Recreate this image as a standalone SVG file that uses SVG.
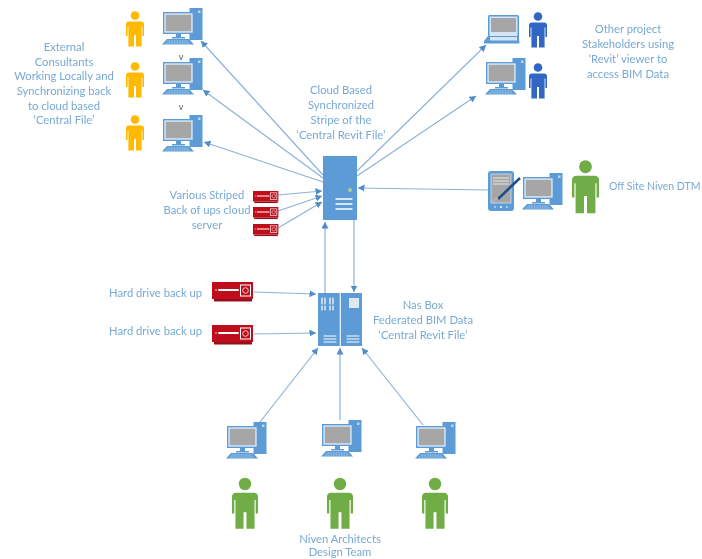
<svg xmlns="http://www.w3.org/2000/svg" xmlns:xlink="http://www.w3.org/1999/xlink" width="702" height="559" viewBox="0 0 702 559">
<style>
text{font-family:"Lato","Open Sans","Liberation Sans",sans-serif;font-size:11.25px;fill:#78a9d4}
.m{text-anchor:middle}
.c{stroke:#8cb2d8;stroke-width:1.2;fill:none;marker-end:url(#ah)}
.k{fill:#5b9bd5}
.w{fill:#d5e5f5}
.g{fill:#a6a6a6}
.r{fill:#c00f1e}
.rd{fill:#98101c}
.l{stroke:#fff;stroke-linecap:round;fill:none}
</style>
<defs>
<filter id="soft" x="0" y="0" width="100%" height="100%"><feGaussianBlur stdDeviation="0.35"/></filter>
<marker id="ah" markerUnits="userSpaceOnUse" markerWidth="9" markerHeight="9" refX="6.500" refY="3.500" orient="auto"><path d="M0 0L6.500 3.500L0 7Z" fill="#4f8dc8"/></marker>
<symbol id="pc" width="41" height="37" viewBox="0 0 41 37" overflow="visible">
<rect class="k" x="27.500" y="0" width="13" height="32"/><rect x="36" y="2.500" width="2.500" height="2.500" fill="#bcd6ef"/>
<rect class="k" x="1" y="4" width="31" height="22"/><rect class="w" x="2.300" y="5.300" width="28.400" height="19.400"/><rect class="g" x="3.800" y="6.800" width="25.400" height="16.400"/>
<rect class="k" x="14" y="26" width="5" height="3"/><rect class="k" x="10" y="29" width="13" height="1.500"/>
<path class="k" d="M5 31H27L32 36.500H0Z"/><path d="M5.500 33H26.500M4 35H28" stroke="#cfe2f5" stroke-width=".8" stroke-dasharray="1 .6"/>
</symbol>
<symbol id="person" width="18" height="36" viewBox="0 0 18 36" overflow="visible">
<circle cx="9" cy="4.500" r="4.300"/>
<path d="M3 10.500H15Q18 10.500 18 13.500V25H16.400V15.500H15.600V35.500H10V24H8V35.500H2.400V15.500H1.600V25H0V13.500Q0 10.500 3 10.500Z"/>
</symbol>
<symbol id="drive" width="42" height="21" viewBox="0 0 42 21" overflow="visible">
<rect class="r" width="41" height="17"/><rect class="rd" x="2" y="17" width="38" height="2.500"/>
<path class="l" d="M7 8H26" stroke-width="1.800"/><rect x="28.500" y="3" width="10" height="11" fill="none" stroke="#fff" stroke-width="1"/><circle cx="33.500" cy="8.500" r="2.800" fill="none" stroke="#f3c9cc" stroke-width="1"/>
<circle cx="4" cy="8" r="1" fill="#e88"/>
</symbol>
</defs>
<rect width="702" height="559" fill="#fff"/>
<g filter="url(#soft)">
<g id="connectors">
<path class="c" d="M323 175L201 41"/>
<path class="c" d="M323 178L203 90"/>
<path class="c" d="M323 182L204 142"/>
<path class="c" d="M357 171L486 45"/>
<path class="c" d="M357 176L476 96"/>
<path class="c" d="M488 190L358 188"/>
<path class="c" d="M278 195L322 191"/>
<path class="c" d="M278 211L322 196"/>
<path class="c" d="M278 228L322 202"/>
<path class="c" d="M325 293V222"/>
<path class="c" d="M354 220V292"/>
<path class="c" d="M254 292L316 294"/>
<path class="c" d="M254 334L316 333"/>
<path class="c" d="M260 422L318 348"/>
<path class="c" d="M340 420V348"/>
<path class="c" d="M423 425L362 348"/>
</g>

<g id="consultant-1"><use href="#person" x="126" y="11" fill="#ffb900"/><use href="#pc" x="162" y="8"/></g>
<g id="consultant-2"><use href="#person" x="126" y="62" fill="#ffb900"/><use href="#pc" x="162" y="58"/><text class="m" x="181" y="60" style="font-size:9px;fill:#555">v</text></g>
<g id="consultant-3"><use href="#person" x="126" y="115" fill="#ffb900"/><use href="#pc" x="162" y="115"/><text class="m" x="181" y="110" style="font-size:9px;fill:#555">v</text></g>
<g id="consultants-label"><text class="m" x="64" y="51">External</text><text class="m" x="64" y="66">Consultants</text><text class="m" x="64" y="80">Working Locally and</text><text class="m" x="64" y="95">Synchronizing back</text><text class="m" x="64" y="110">to cloud based</text><text class="m" x="64" y="124">‘Central File’</text></g>

<g id="cloud-server">
<rect class="k" x="323" y="156" width="34" height="64"/><circle cx="350" cy="190" r="2" fill="#a9d18e"/>
<path class="l" d="M336 199H352M336 204H352M336 209H352" stroke-width="1.300"/>
</g>
<g id="cloud-label"><text class="m" x="341" y="94">Cloud Based</text><text class="m" x="341" y="109">Synchronized</text><text class="m" x="341" y="124">Stripe of the</text><text class="m" x="341" y="139">‘Central Revit File’</text></g>

<g id="stakeholder-laptop">
<rect class="k" x="488" y="15" width="31" height="24" rx="1.500"/><rect class="w" x="489.500" y="16.500" width="28" height="20"/><rect class="g" x="491" y="18" width="25" height="14"/>
<path class="k" d="M488 36H519L519 38L519.500 43.500H484V41Z"/><rect class="w" x="490" y="37" width="27" height="3.500"/>
<use href="#person" x="529" y="12" fill="#3366c4"/>
</g>
<g id="stakeholder-desktop"><use href="#pc" x="485" y="58"/><use href="#person" x="529" y="63" fill="#3366c4"/></g>
<g id="stakeholders-label"><text class="m" x="628" y="33">Other project</text><text class="m" x="628" y="48">Stakeholders using</text><text class="m" x="628" y="63">‘Revit’ viewer to</text><text class="m" x="628" y="78">access BIM Data</text></g>

<g id="dtm">
<rect class="k" x="488" y="171" width="26" height="40" rx="3"/><rect class="g" x="491" y="174" width="20" height="29" stroke="#cfe2f5" stroke-width=".8"/>
<path d="M493 178H509M493 181H509M493 184H509" stroke="#e8e8e8" stroke-width="1.100"/>
<path d="M520 178L498 199" stroke="#1f4e8c" stroke-width="2.500"/><path d="M492 203Q497 196 498 199" stroke="#e6b9a0" stroke-width="1" fill="none"/>
<circle cx="501" cy="207" r="1" fill="#fff"/><circle cx="495" cy="207" r=".8" fill="#fff"/><circle cx="507" cy="207" r=".8" fill="#fff"/>
<use href="#pc" x="522" y="173"/>
<use href="#person" x="572" y="160" width="27" height="54" fill="#70ad47"/>
<text x="609" y="190" style="font-size:10.500px">Off Site Niven DTM</text>
</g>

<g id="striped-backups">
<use href="#drive" x="253" y="191" width="26" height="13"/><use href="#drive" x="253" y="207" width="26" height="13"/><use href="#drive" x="253" y="224" width="26" height="13"/>
<text class="m" x="207" y="199">Various Striped</text><text class="m" x="207" y="214">Back of ups cloud</text><text class="m" x="207" y="229">server</text>
</g>

<g id="hard-drive-1"><use href="#drive" x="212" y="282"/><text x="109" y="297">Hard drive back up</text></g>
<g id="hard-drive-2"><use href="#drive" x="212" y="325"/><text x="109" y="335">Hard drive back up</text></g>

<g id="nas-box">
<rect class="k" x="318" y="293" width="21.700" height="53"/><rect class="k" x="340.800" y="293" width="21.200" height="53"/>
<path class="l" d="M322 298V304M325 298V304M330 298V304M333 298V304M322 306V310M325 306V310M330 306V310M333 306V310" stroke-width="1.200" stroke-linecap="butt"/>
<rect x="349" y="298" width="10" height="10" fill="#dfe7ef"/>
<path class="l" d="M324 336H336M324 339H336M324 342H336M347 336H359M347 339H359M347 342H359" stroke-width="1"/>
</g>
<g id="nas-label"><text class="m" x="423" y="309">Nas Box</text><text class="m" x="423" y="324">Federated BIM Data</text><text class="m" x="423" y="339">‘Central Revit File’</text></g>

<g id="team-1"><use href="#pc" x="226" y="422"/><use href="#person" x="232" y="477" width="26" height="53" fill="#70ad47"/></g>
<g id="team-2"><use href="#pc" x="321" y="420"/><use href="#person" x="327" y="477" width="26" height="53" fill="#70ad47"/></g>
<g id="team-3"><use href="#pc" x="415" y="422"/><use href="#person" x="422" y="477" width="26" height="53" fill="#70ad47"/></g>
<g id="team-label"><text class="m" x="340" y="543">Niven Architects</text><text class="m" x="340" y="556">Design Team</text></g>
</g>
</svg>
